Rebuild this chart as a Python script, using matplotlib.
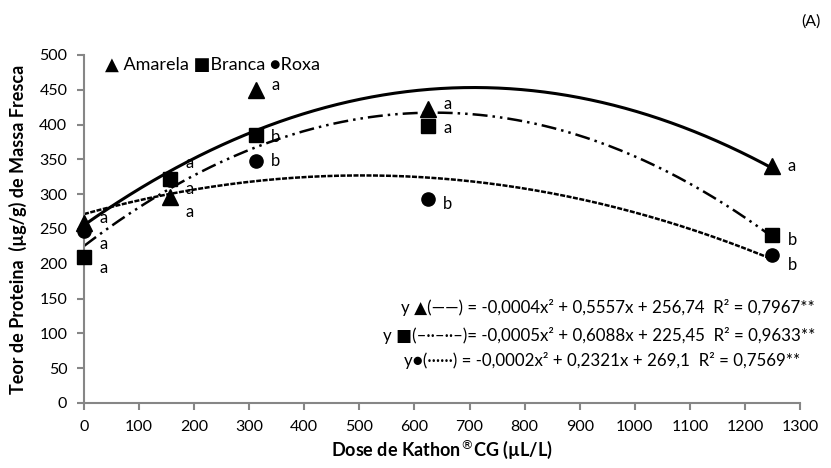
import matplotlib
matplotlib.use("Agg")
import matplotlib.pyplot as plt
import numpy as np

plt.rcParams['font.family'] = ['Lato', 'DejaVu Sans']

# doses de Kathon CG (uL/L)
doses = [0, 156.25, 312.5, 625, 1250]
amarela = [258, 296, 450, 423, 341]
branca = [210, 322, 385, 398, 242]
roxa = [247, 321, 348, 293, 212]

letras_amarela = ['a', 'a', 'a', 'a', 'a']
letras_branca = ['a', 'a', 'b', 'a', 'b']
letras_roxa = ['a', 'a', 'b', 'b', 'b']

equacoes = [
    "y \u25B2(\u2014\u2014) = -0,0004x\u00B2 + 0,5557x + 256,74  R\u00B2 = 0,7967**",
    "y \u25A0(\u2013\u00B7\u00B7\u2013\u00B7\u00B7\u2013)= -0,0005x\u00B2 + 0,6088x + 225,45  R\u00B2 = 0,9633**",
    "y\u25CF(\u00B7\u00B7\u00B7\u00B7\u00B7\u00B7) = -0,0002x\u00B2 + 0,2321x + 269,1  R\u00B2 = 0,7569**",
]

fig = plt.figure(figsize=(8.31, 4.68), dpi=100)
ax = fig.add_axes([0.1011, 0.1389, 0.8616, 0.7436])

xs = np.linspace(0, 1250, 300)

series = [
    (amarela, '^', 11, '-', 2.2, letras_amarela, [5, -15, 5, 5, 0]),
    (branca, 's', 9.5, (0, (6, 2, 1, 2, 1, 2)), 1.8, letras_branca, [-11, 16, -2, -2, -5]),
    (roxa, 'o', 9.5, (0, (2, 0.6)), 1.8, letras_roxa, [-13, -9, 0, -5, -10]),
]
# linhas de tendencia (polinomial de 2a ordem)
for vals, mk, ms, ls, lw, letras, dys in series:
    c = np.polyfit(doses, vals, 2)
    ax.plot(xs, np.polyval(c, xs), color='black', linestyle=ls, linewidth=lw, zorder=2)

# marcadores: roxa primeiro (fica atras)
for vals, mk, ms, ls, lw, letras, dys in reversed(series):
    ax.plot(doses, vals, linestyle='none', marker=mk, markersize=ms, color='black',
            zorder=3, clip_on=False)
    for x, y, l, dy in zip(doses, vals, letras, dys):
        ax.annotate(l, (x, y), xytext=(15, dy), textcoords='offset pixels',
                    fontsize=12, va='center', ha='left')

ax.set_xlim(0, 1300)
ax.set_ylim(0, 500)
ax.set_xticks(np.arange(0, 1301, 100))
ax.set_yticks(np.arange(0, 501, 50))
for s in ['top', 'right']:
    ax.spines[s].set_visible(False)
for s in ['left', 'bottom']:
    ax.spines[s].set_color('#868686')
    ax.spines[s].set_linewidth(1.5)
ax.tick_params(direction='out', length=5, width=1.5, color='#868686', labelsize=11.5, pad=7)

ax.set_xlabel("Dose de Kathon$^{\u00AE}$CG (\u00B5L/L)", fontsize=13, fontweight='bold', labelpad=3)
ax.set_ylabel("Teor de Proteina  (\u00B5g/g) de Massa Fresca", fontsize=13, fontweight='bold', labelpad=9)

ax.text(0.029, 0.971, "\u25B2 Amarela \u25A0Branca \u25CFRoxa", transform=ax.transAxes,
        fontsize=13, va='center', ha='left')

eq_x = [1.021, 1.021, 1.0]
eq_y = [0.273, 0.195, 0.121]
for eq, ex, ey in zip(equacoes, eq_x, eq_y):
    ax.text(ex, ey, eq, transform=ax.transAxes, fontsize=12.2, va='center', ha='right')

fig.text(0.988, 0.953, "(A)", fontsize=11.5, ha='right', va='center')

fig.savefig("out.png", dpi=100)
